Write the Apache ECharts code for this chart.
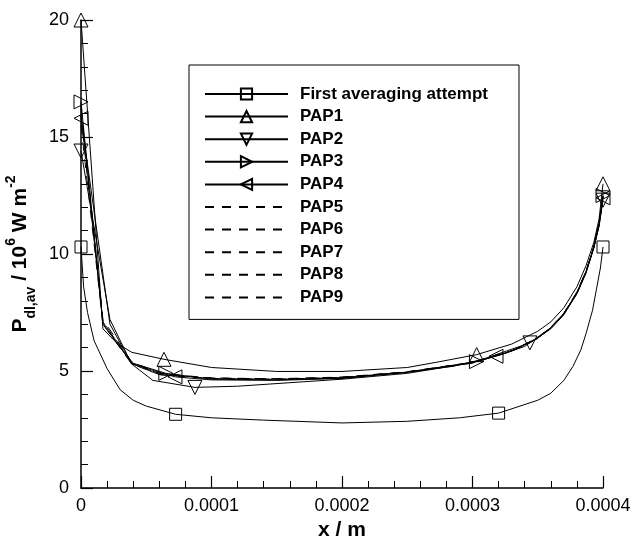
<!DOCTYPE html>
<html>
<head>
<meta charset="utf-8">
<script src="https://cdn.jsdelivr.net/npm/echarts@6/dist/echarts.min.js"></script>
<style>
html,body{margin:0;padding:0;background:#fff;}
#chart{width:644px;height:537px;}
</style>
</head>
<body>
<div id="chart"></div>
<script>
// ---- Data ----
const seriesNames = ['First averaging attempt','PAP1','PAP2','PAP3','PAP4','PAP5','PAP6','PAP7','PAP8','PAP9'];

const firstX = [0, 0.000002, 0.000005, 0.00001, 0.00002, 0.00003, 0.00004, 0.00005, 0.0000725, 0.0001, 0.00014, 0.0002, 0.00025, 0.00029, 0.00032, 0.00035, 0.00036, 0.00037, 0.000377, 0.000383, 0.000387, 0.000392, 0.000395, 0.000398, 0.0004];
const firstY = [10.3, 8.6, 7.5, 6.3, 5.1, 4.2, 3.75, 3.5, 3.15, 3.0, 2.9, 2.78, 2.85, 3.0, 3.2, 3.75, 4.05, 4.6, 5.2, 5.9, 6.6, 7.6, 8.5, 9.4, 10.3];
const firstMarks = [0, 8, 14, 24];

const pap1X = [0, 0.0000168, 0.0000273, 0.0000388, 0.0000636, 0.0001, 0.00015, 0.0002, 0.00025, 0.000275, 0.0003032, 0.00033, 0.00035, 0.00036, 0.00037, 0.00038, 0.000387, 0.000393, 0.000397, 0.0004];
const pap1Y = [20, 6.8, 6.2, 5.8, 5.5, 5.15, 4.98, 4.98, 5.15, 5.4, 5.7, 6.15, 6.7, 7.1, 7.7, 8.6, 9.5, 10.5, 11.5, 13.0];
const pap1Marks = [0, 4, 10, 19];

const pap2X = [0, 0.0000222, 0.0000388, 0.000055, 0.0000873, 0.00012, 0.00016, 0.0002, 0.00025, 0.0003, 0.000344, 0.00036, 0.00037, 0.00038, 0.000387, 0.000393, 0.000397, 0.0004];
const pap2Y = [14.4, 7.2, 5.3, 4.6, 4.3, 4.35, 4.5, 4.65, 4.9, 5.35, 6.2, 6.8, 7.4, 8.3, 9.2, 10.3, 11.2, 12.3];
const pap2Marks = [0, 4, 10, 17];

const pap3X = [0, 0.0000168, 0.0000388, 0.000065, 0.0001, 0.00015, 0.0002, 0.00025, 0.000303, 0.00033, 0.00035, 0.00036, 0.00037, 0.00038, 0.000387, 0.000393, 0.000397, 0.0004];
const pap3Y = [16.5, 7.0, 5.35, 4.9, 4.65, 4.62, 4.7, 4.95, 5.4, 5.85, 6.4, 6.85, 7.45, 8.35, 9.25, 10.3, 11.3, 12.5];
const pap3Marks = [0, 3, 8, 17];

const pap4X = [0, 0.0000222, 0.0000388, 0.000072, 0.0001, 0.00015, 0.0002, 0.00025, 0.000285, 0.000318, 0.00034, 0.00036, 0.00037, 0.00038, 0.000387, 0.000393, 0.000397, 0.0004];
const pap4Y = [15.8, 7.0, 5.3, 4.75, 4.62, 4.6, 4.68, 4.95, 5.2, 5.63, 6.05, 6.85, 7.45, 8.3, 9.2, 10.25, 11.2, 12.4];
const pap4Marks = [0, 3, 9, 17];

const dashX = [0, 0.0000168, 0.0000388, 0.00006, 0.0001, 0.00015, 0.0002, 0.00025, 0.0003, 0.00033, 0.00035, 0.00036, 0.00037, 0.00038, 0.000387, 0.000393, 0.000397, 0.0004];
const pap5Y = [16.0, 7.1, 5.35, 4.85, 4.68, 4.65, 4.72, 4.95, 5.35, 5.85, 6.4, 6.85, 7.45, 8.35, 9.25, 10.3, 11.3, 12.45];
const pap6Y = [15.5, 7.0, 5.3, 4.85, 4.7, 4.67, 4.74, 4.97, 5.37, 5.87, 6.42, 6.87, 7.47, 8.37, 9.27, 10.32, 11.32, 12.5];
const pap7Y = [16.2, 7.2, 5.4, 4.9, 4.7, 4.66, 4.73, 4.96, 5.36, 5.86, 6.41, 6.86, 7.46, 8.36, 9.26, 10.31, 11.31, 12.45];
const pap8Y = [15.9, 7.05, 5.33, 4.84, 4.67, 4.64, 4.71, 4.94, 5.34, 5.84, 6.39, 6.84, 7.44, 8.34, 9.24, 10.29, 11.29, 12.4];
const pap9Y = [16.3, 7.1, 5.38, 4.88, 4.69, 4.66, 4.73, 4.96, 5.36, 5.86, 6.41, 6.86, 7.46, 8.36, 9.26, 10.31, 11.31, 12.48];

const xTickLabels = ['0', '0.0001', '0.0002', '0.0003', '0.0004'];
const yTickLabels = ['0', '5', '10', '15', '20'];

// ---- Build ----
function pts(xs, ys, marks) {
  return xs.map((x, i) => {
    const item = { value: [x, ys[i]] };
    if (!marks || marks.indexOf(i) < 0) item.symbol = 'none';
    return item;
  });
}
function solid(name, xs, ys, marks, symbol, rot, size) {
  return {
    name, type: 'line', data: pts(xs, ys, marks),
    symbol, symbolRotate: rot, symbolSize: size, showSymbol: true,
    lineStyle: { color: '#000', width: 1 },
    itemStyle: { color: 'rgba(255,255,255,0)', borderColor: '#000', borderWidth: 1 },
    z: 3
  };
}
function dashed(name, xs, ys) {
  return {
    name, type: 'line', data: pts(xs, ys, null),
    symbol: 'none', showSymbol: false,
    lineStyle: { color: '#000', width: 1, type: [9, 8] },
    itemStyle: { color: 'rgba(0,0,0,0)', borderColor: 'rgba(0,0,0,0)', borderWidth: 0 },
    z: 2
  };
}

const series = [
  solid(seriesNames[0], firstX, firstY, firstMarks, 'rect', 0, 12),
  solid(seriesNames[1], pap1X, pap1Y, pap1Marks, 'triangle', 0, 14),
  solid(seriesNames[2], pap2X, pap2Y, pap2Marks, 'triangle', 180, 14),
  solid(seriesNames[3], pap3X, pap3Y, pap3Marks, 'triangle', -90, 14),
  solid(seriesNames[4], pap4X, pap4Y, pap4Marks, 'triangle', 90, 14),
  dashed(seriesNames[5], dashX, pap5Y),
  dashed(seriesNames[6], dashX, pap6Y),
  dashed(seriesNames[7], dashX, pap7Y),
  dashed(seriesNames[8], dashX, pap8Y),
  dashed(seriesNames[9], dashX, pap9Y)
];

const FONT = 'Liberation Sans, Arial, Helvetica, sans-serif';
const chart = echarts.init(document.getElementById('chart'), null, { renderer: 'canvas' });
chart.setOption({
  animation: false,
  backgroundColor: '#fff',
  grid: { left: 81, right: 41, top: 20, bottom: 49, containLabel: false, outerBoundsMode: 'none' },
  legend: {
    data: seriesNames,
    orient: 'vertical',
    left: 189, top: 65,
    itemWidth: 83, itemHeight: 14, itemGap: 5.6,
    padding: [20.5, 31, 13.5, 15],
    borderColor: '#000', borderWidth: 1,
    backgroundColor: '#fff',
    selectedMode: false,
    textStyle: { fontFamily: FONT, fontWeight: 'bold', fontSize: 17, color: '#000', lineHeight: 17, padding: [0, 0, 0, 7] }
  },
  xAxis: {
    type: 'value', min: 0, max: 0.0004, interval: 0.0001,
    name: 'x / m', nameLocation: 'middle', nameGap: 27,
    nameTextStyle: { fontFamily: FONT, fontWeight: 'bold', fontSize: 21, color: '#000' },
    axisLine: { show: true, lineStyle: { color: '#000', width: 1.5 } },
    axisTick: { show: true, inside: true, length: 12, lineStyle: { color: '#000', width: 1.2 } },
    minorTick: { show: true, splitNumber: 5, length: 7, lineStyle: { color: '#000', width: 1 } },
    splitLine: { show: false },
    axisLabel: { color: '#000', fontFamily: FONT, fontSize: 18, margin: 9,
      formatter: (v, i) => xTickLabels[i] }
  },
  yAxis: {
    type: 'value', min: 0, max: 20, interval: 5,
    name: '{b|P}{sub|dl,av}{b| / 10}{sup|6}{b| W m}{sup|-2}',
    nameLocation: 'middle', nameGap: 21, nameRotate: 90,
    nameTextStyle: {
      fontFamily: FONT, fontWeight: 'bold', fontSize: 21, color: '#000',
      rich: {
        b: { fontFamily: FONT, fontWeight: 'bold', fontSize: 21, color: '#000', lineHeight: 28 },
        sub: { fontFamily: FONT, fontWeight: 'bold', fontSize: 14, color: '#000', verticalAlign: 'bottom', lineHeight: 28, padding: [0, 0, -4, 0] },
        sup: { fontFamily: FONT, fontWeight: 'bold', fontSize: 14, color: '#000', verticalAlign: 'top', lineHeight: 28, padding: [-2, 0, 0, 0] }
      }
    },
    axisLine: { show: true, lineStyle: { color: '#000', width: 1.5 } },
    axisTick: { show: true, inside: true, length: 12, lineStyle: { color: '#000', width: 1.2 } },
    minorTick: { show: true, splitNumber: 5, length: 7, lineStyle: { color: '#000', width: 1 } },
    splitLine: { show: false },
    axisLabel: { color: '#000', fontFamily: FONT, fontSize: 18, margin: 12,
      formatter: (v, i) => yTickLabels[i] }
  },
  series
});
</script>
</body>
</html>
